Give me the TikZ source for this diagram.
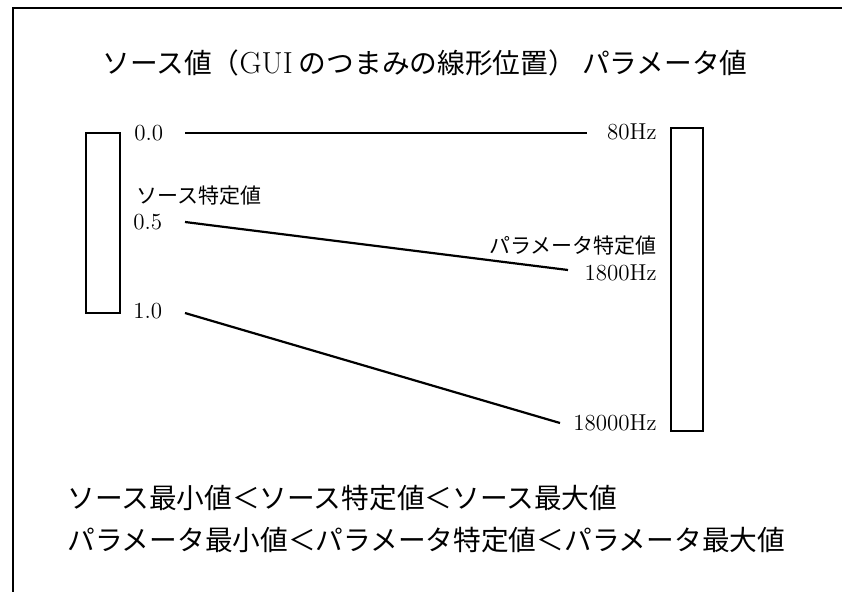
\documentclass[tikz,border=0pt]{standalone}
\usepackage{fontspec}
\newfontfamily\cjk{Noto Sans CJK JP}
\begin{document}
\begin{tikzpicture}[x=0.5pt,y=-0.5pt,
  frameline/.style={line width=1.3pt},
  bar/.style={draw,line width=1.1pt},
  link/.style={line width=1.1pt},
  lbl/.style={inner sep=0pt,font=\fontsize{11.5}{13}\selectfont},
  smalljp/.style={inner sep=0pt,font=\fontsize{10.5}{12}\selectfont\cjk},
  bigjp/.style={inner sep=0pt,font=\fontsize{13.85}{16}\selectfont\cjk}]
\useasboundingbox (0,0) rectangle (842,591);
\draw[frameline] (850,8) -- (13,8) -- (13,600);
% title
\node[bigjp] (title) at (425,63) {ソース値（{\fontsize{15.2}{16}\selectfont\rmfamily GUI} のつまみの線形位置） パラメータ値};
% bars
\node[bar,minimum width=17pt,minimum height=90pt,inner sep=0pt] (src) at (103,223) {};
\node[bar,minimum width=16pt,minimum height=151.5pt,inner sep=0pt] (par) at (687,279.5) {};
% source labels
\node[lbl,anchor=west] (s0) at (134,133) {0.0};
\node[smalljp,anchor=west] (sspec) at (136,196) {ソース特定値};
\node[lbl,anchor=west] (s5) at (133,222) {0.5};
\node[lbl,anchor=west] (s1) at (133,311) {1.0};
% parameter labels
\node[lbl,anchor=east] (p0) at (657,132) {80Hz};
\node[smalljp,anchor=east] (pspec) at (657,246) {パラメータ特定値};
\node[lbl,anchor=east] (p5) at (657,273) {1800Hz};
\node[lbl,anchor=east] (p1) at (657,423) {18000Hz};
% connector ends
\coordinate (a0) at (185,133);
\coordinate (b0) at (587,133);
\coordinate (a5) at (185,222);
\coordinate (b5) at (568,270);
\coordinate (a1) at (185,313);
\coordinate (b1) at (560,423);
\draw[link] (a0) -- (b0);
\draw[link] (a5) -- (b5);
\draw[link] (a1) -- (b1);
% relations
\node[bigjp,anchor=west] (rel1) at (67,498) {ソース最小値＜ソース特定値＜ソース最大値};
\node[bigjp,anchor=west] (rel2) at (67,540) {パラメータ最小値＜パラメータ特定値＜パラメータ最大値};
\end{tikzpicture}
\end{document}
